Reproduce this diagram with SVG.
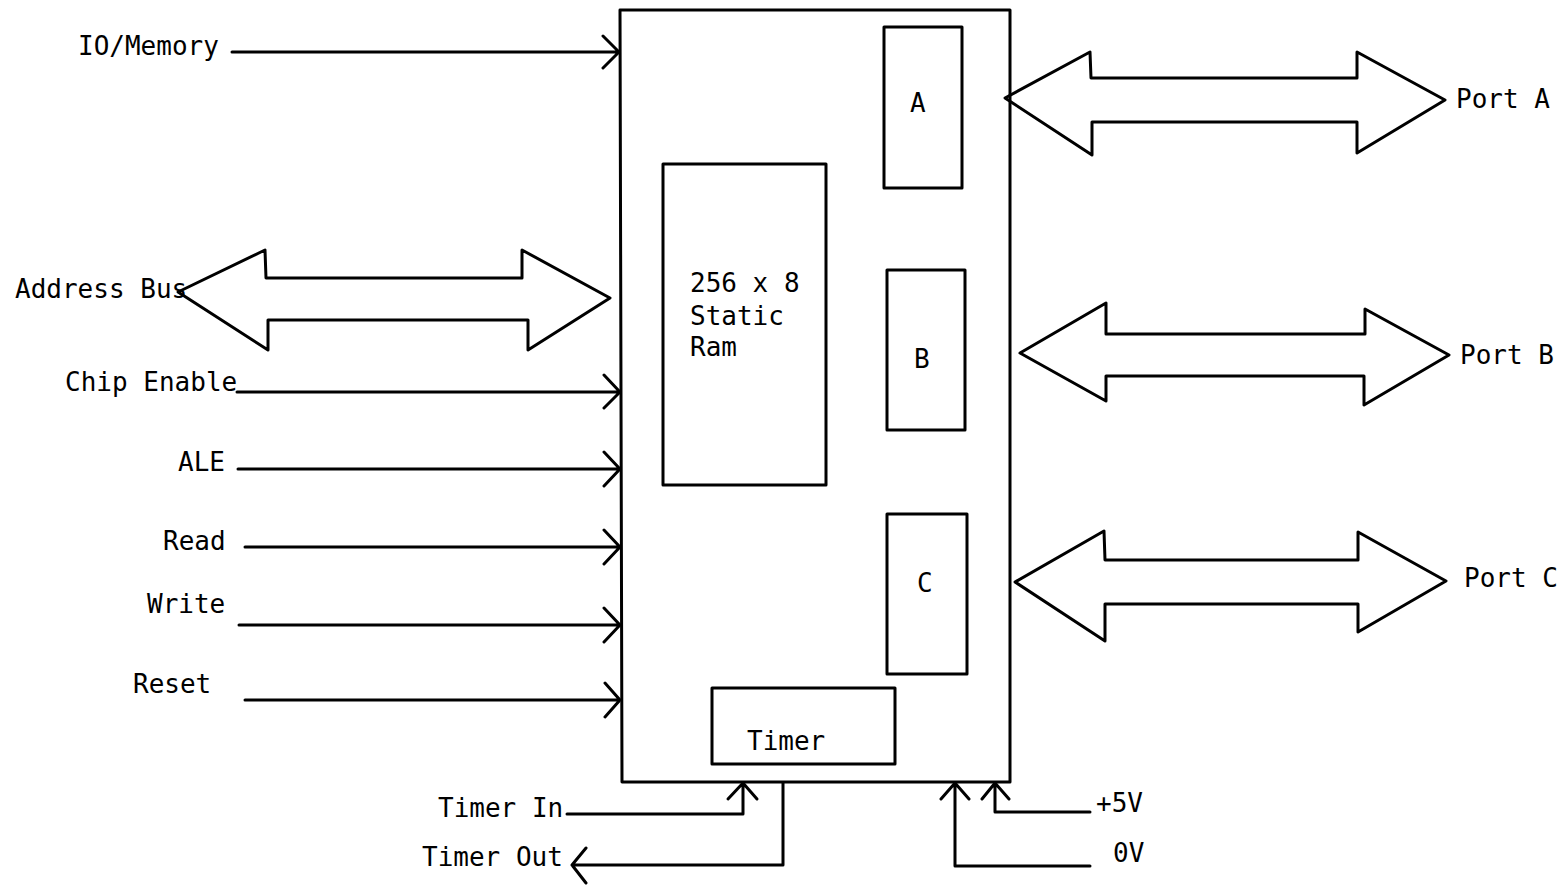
<svg xmlns="http://www.w3.org/2000/svg" width="1564" height="891" viewBox="0 0 1564 891">
<style>
.s{fill:none;stroke:#000;stroke-width:3;stroke-linejoin:round;stroke-linecap:round}
.t{font-family:"DejaVu Sans Mono","Liberation Mono",monospace;font-size:26px;fill:#000}
</style>
<rect width="1564" height="891" fill="#fff"/>
<g id="chip"><path class="s" d="M620 10 L1010 10 L1010 782 L622 782 Z"/></g>
<g id="ram"><rect class="s" x="663" y="164" width="163" height="321"/>
<text class="t" x="690" y="292">256 x 8</text><text class="t" x="690" y="325">Static</text><text class="t" x="690" y="356">Ram</text></g>
<g id="portA-reg"><rect class="s" x="884" y="27" width="78" height="161"/><text class="t" x="910" y="112">A</text></g>
<g id="portB-reg"><rect class="s" x="887" y="270" width="78" height="160"/><text class="t" x="914" y="368">B</text></g>
<g id="portC-reg"><rect class="s" x="887" y="514" width="80" height="160"/><text class="t" x="917" y="592">C</text></g>
<g id="timer"><rect class="s" x="712" y="688" width="183" height="76"/><text class="t" x="747" y="750">Timer</text></g>
<g id="labels">
<text class="t" x="78" y="55">IO/Memory</text>
<text class="t" x="15" y="298">Address Bus</text>
<text class="t" x="65" y="391">Chip Enable</text>
<text class="t" x="178" y="471">ALE</text>
<text class="t" x="163" y="550">Read</text>
<text class="t" x="147" y="613">Write</text>
<text class="t" x="133" y="693">Reset</text>
<text class="t" x="1456" y="108">Port A</text>
<text class="t" x="1460" y="364">Port B</text>
<text class="t" x="1464" y="587">Port C</text>
<text class="t" x="438" y="817">Timer In</text>
<text class="t" x="422" y="866">Timer Out</text>
<text class="t" x="1096" y="812">+5V</text>
<text class="t" x="1113" y="862">0V</text>
</g>
<g id="connectors">
<path class="s" d="M232 52 L618 52 M603 36 L619 52 L603 68"/>
<path class="s" d="M237 392 L620 392 M604 375 L620 392 L604 408"/>
<path class="s" d="M238 469 L620 469 M604 452 L620 469 L604 486"/>
<path class="s" d="M245 547 L620 547 M604 530 L620 547 L604 564"/>
<path class="s" d="M239 625 L620 625 M604 608 L620 625 L604 642"/>
<path class="s" d="M245 700 L620 700 M605 683 L620 700 L605 717"/>
<path class="s" d="M178 292 L265 250 L266 278 L522 278 L522 250 L610 298 L528 350 L528 320 L268 320 L268 350 Z"/>
<path class="s" d="M1005 98 L1090 52 L1091 78 L1357 78 L1357 52 L1445 100 L1357 153 L1357 122 L1092 122 L1092 155 Z"/>
<path class="s" d="M1020 353 L1106 303 L1106 334 L1365 334 L1365 309 L1449 355 L1364 405 L1364 376 L1106 376 L1106 401 Z"/>
<path class="s" d="M1015 582 L1104 531 L1105 560 L1358 560 L1358 532 L1446 581 L1358 632 L1358 604 L1105 604 L1105 641 Z"/>
<path class="s" d="M567 814 L743 814 L743 783 M728 799 L743 783 L757 799"/>
<path class="s" d="M783 783 L783 865 L572 865 M586 848 L572 865 L586 883"/>
<path class="s" d="M1090 812 L995 812 L995 783 M982 799 L995 783 L1009 799"/>
<path class="s" d="M1090 866 L955 866 L955 783 M941 799 L955 783 L969 799"/>
</g>
</svg>
